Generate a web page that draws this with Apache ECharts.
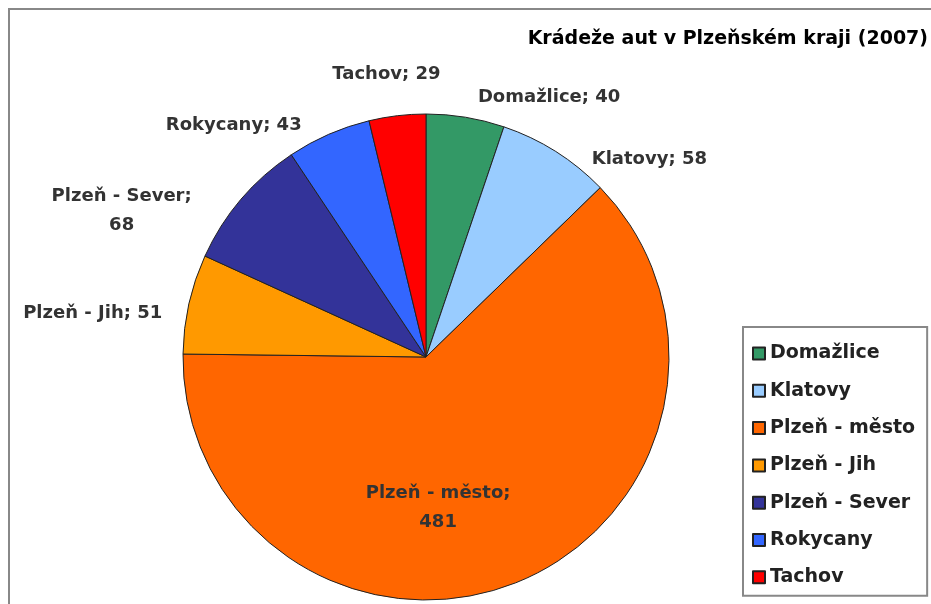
<!DOCTYPE html>
<html>
<head>
<meta charset="utf-8">
<script src="https://cdn.jsdelivr.net/npm/echarts@6/dist/echarts.min.js"></script>
<style>
  html, body { margin: 0; padding: 0; background: #fff; }
  #main { width: 931px; height: 604px; }
</style>
</head>
<body>
<div id="main"></div>
<script>
// data
var districts = ['Domažlice', 'Klatovy', 'Plzeň - město', 'Plzeň - Jih', 'Plzeň - Sever', 'Rokycany', 'Tachov'];
var thefts = [40, 58, 481, 51, 68, 43, 29];
var sliceColors = ['#339966', '#99ccff', '#ff6600', '#ff9900', '#333399', '#3366ff', '#ff0000'];
var wrapped = ['Plzeň - město', 'Plzeň - Sever'];

// label nudges (dx, dy) from default placement
var labelShift = [[5, -5], [23, 21], [-34, 35], [-7, 13], [-103, 21], [-16, 5], [50, -26]];

var chartDom = document.getElementById('main');
var myChart = echarts.init(chartDom);
var option;

var pieData = districts.map(function (name, i) {
  var item = { name: name, value: thefts[i], itemStyle: { color: sliceColors[i] } };
  if (name == 'Plzeň - město') {
    item.label = { position: 'inside' };
  }
  return item;
});

option = {
  backgroundColor: '#ffffff',
  animation: false,
  textStyle: { fontFamily: 'DejaVu Sans' },
  graphic: [
    {
      type: 'rect',
      z: -10,
      shape: { x: 9, y: 9, width: 1000, height: 1000 },
      style: { fill: '#ffffff', stroke: '#888888', lineWidth: 2 }
    }
  ],
  title: {
    text: 'Krádeže aut v Plzeňském kraji (2007)',
    right: 3,
    top: 30,
    padding: 0,
    textStyle: { fontFamily: 'DejaVu Sans', fontWeight: 'bold', fontSize: 19, color: '#000' }
  },
  legend: {
    orient: 'vertical',
    left: 743,
    top: 327,
    padding: [17, 12, 9, 9],
    itemGap: 18.3,
    itemWidth: 12,
    itemHeight: 12,
    icon: 'rect',
    backgroundColor: '#ffffff',
    borderColor: '#888888',
    borderWidth: 2,
    borderRadius: 0,
    textStyle: { fontFamily: 'DejaVu Sans', fontWeight: 'bold', fontSize: 19, color: '#222' },
    data: districts
  },
  series: [
    {
      name: 'Krádeže',
      type: 'pie',
      center: [426, 357],
      radius: 243,
      startAngle: 90,
      clockwise: true,
      avoidLabelOverlap: false,
      itemStyle: { borderColor: '#222', borderWidth: 1 },
      emphasis: { disabled: true },
      label: {
        show: true,
        position: 'outside',
        fontFamily: 'DejaVu Sans',
        fontWeight: 'bold',
        fontSize: 18,
        color: '#333',
        lineHeight: 29,
        formatter: function (p) {
          var sep = wrapped.indexOf(p.name) >= 0 ? ';\n' : '; ';
          return p.name + sep + p.value;
        }
      },
      labelLine: { show: false, length: 15, length2: 0 },
      labelLayout: function (p) {
        var s = labelShift[p.dataIndex];
        var res = { dx: s[0], dy: s[1] };
        if (wrapped.indexOf(districts[p.dataIndex]) >= 0) res.align = 'center';
        return res;
      },
      data: pieData
    }
  ]
};

option && myChart.setOption(option);
</script>
</body>
</html>
